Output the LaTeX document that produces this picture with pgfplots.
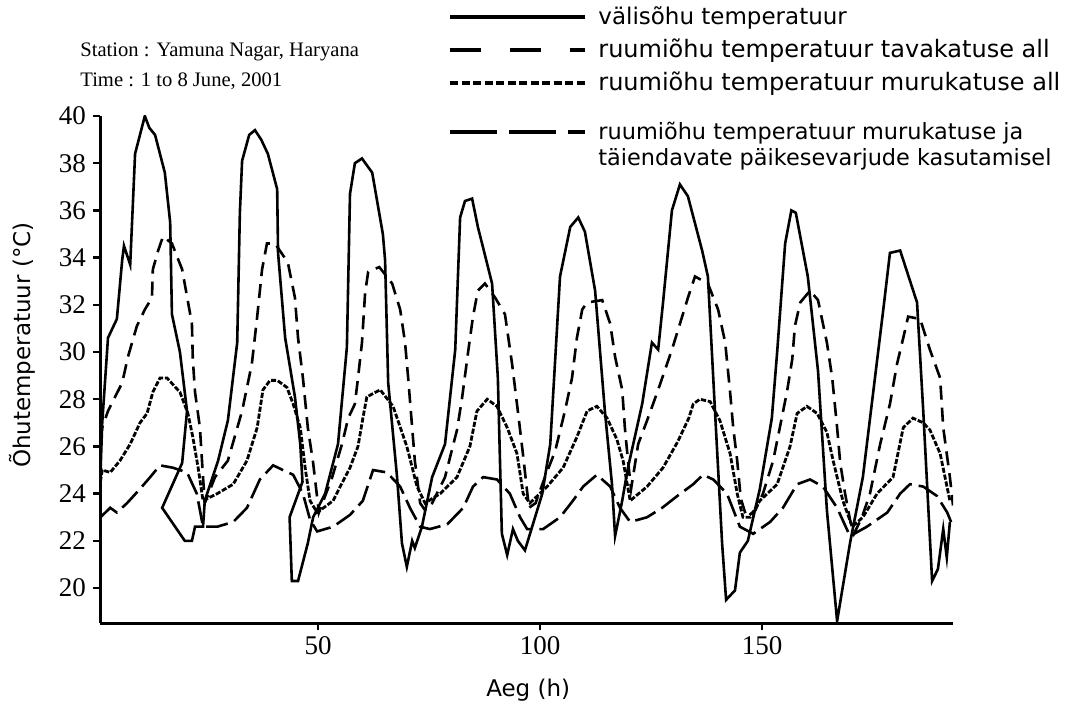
\documentclass[border=0pt]{standalone}
\usepackage{fontspec}
\setmainfont{Liberation Serif}
\newfontfamily\legfont{DejaVu Sans}
\usepackage{pgfplots}
\pgfplotsset{compat=1.18}
\tikzset{
  sOut/.style={line width=1.3bp, solid},
  sTava/.style={line width=1.3bp, dash pattern=on 7bp off 4bp},
  sMuru/.style={line width=1.4bp, dash pattern=on 2.6bp off 0.9bp},
  sVari/.style={line width=1.3bp, dash pattern=on 11bp off 3.5bp},
}
\begin{document}
\begin{tikzpicture}
\useasboundingbox (-50bp,-41.5bp) rectangle (485.5bp,311.5bp);
\begin{axis}[
  at={(0,0)}, anchor=south west,
  scale only axis, width=426.5bp, height=253.5bp,
  xmin=0.9, xmax=193, ymin=18.52, ymax=40,
  axis lines=left, axis line style={-, line width=1.5bp},
  xtick={50,100,150}, ytick={20,22,...,40},
  tick align=outside, major tick length=3.5bp,
  tick style={line width=1.2bp, black},
  /pgf/number format/assume math mode=true,
  tick label style={font=\fontsize{13.5bp}{15bp}\selectfont},
  xlabel={Aeg (h)}, ylabel={Õhutemperatuur (°C)},
  label style={font=\legfont\fontsize{11.5bp}{13bp}\selectfont},
  xlabel style={at={(axis description cs:0.502,-0.132)}, anchor=center},
  ylabel style={at={(axis description cs:-0.0914,0.548)}, anchor=center},
]
% välisõhu temperatuur
\addplot[sOut] coordinates {
(1,24.8) (1.4,27.0) (2.7,30.6) (4.7,31.4) (5.9,33.9) (6.3,34.5) (7.7,33.7) (8.8,38.4) (11.0,40.0) (12,39.5) (13.3,39.2) (15.5,37.6) (16.7,35.5) (17.1,31.6) (18.9,30.0) (20.5,27.5) (19.4,25.3) (14.9,23.4) (20.0,22.0) (21.6,22.0) (22.3,22.6) (24.1,22.6) (24.5,23.7)
(27.5,25.4) (29.7,27.1) (31.8,30.4) (32.4,35.9) (32.9,38.1) (34.5,39.2) (35.8,39.4) (37.2,39.0) (38.7,38.4) (40.8,36.9) (41.0,34.2) (42.6,30.6) (44.8,28.1) (46.0,26.1) (46.5,24.5) (43.6,23.0) (44.1,20.3) (45.5,20.3) (47.7,21.9) (48.9,23.0)
(51.6,24.0) (54.5,26.1) (56.5,30.2) (57.2,36.7) (58.3,38.0) (59.9,38.2) (62.2,37.6) (64.6,35.0) (65.1,33.9) (65.8,28.7) (67.8,24.7) (68.9,21.9) (70.0,20.9) (71.2,22.0) (71.8,21.7) (73.4,22.6)
(75.7,24.7) (78.6,26.1) (80.9,30.1) (82.0,35.7) (83.1,36.4) (84.7,36.5) (86.0,35.3) (89.2,32.9) (90.5,28.9) (91.4,22.3) (92.6,21.4) (93.9,22.5) (95.0,22.0) (96.6,21.6)
(100.5,24.0) (102.3,26.1) (104.5,33.2) (106.8,35.3) (108.6,35.7) (110.1,35.1) (112.4,32.6) (114.6,27.5) (116.2,24.4) (116.9,22.2) (118.5,23.7) (119.8,25.1)
(123.0,27.8) (125.2,30.4) (126.6,30.1) (127.7,32.1) (129.7,36.0) (131.5,37.1) (133.3,36.6) (136.5,34.3) (137.8,33.2) (139.4,27.5) (141.0,21.9) (141.9,19.5) (143.9,19.9) (145.0,21.5) (146.8,22.0)
(149.5,24.2) (152.2,27.2) (153.4,30.0) (155.2,34.6) (156.6,36.0) (157.6,35.9) (160.3,33.2) (162.6,29.2) (164.6,23.3) (166.9,18.6) (169.8,21.9) (172.7,24.7)
(177.3,31.8) (178.8,34.2) (181.1,34.3) (184.9,32.1) (186.3,27.5) (188.3,20.3) (189.6,20.8) (190.8,22.5) (191.6,21.3) (192.3,22.8)
};
% ruumiõhu temperatuur tavakatuse all
\addplot[sTava] coordinates {
(1,26.3) (1.4,26.8) (2.7,27.5) (5.9,28.7) (7.2,29.8) (9.2,31.1) (11.0,31.8) (12.6,32.3) (12.8,33.5) (14.0,34.3) (15.1,34.9) (17.1,34.6) (19.4,33.5) (21.6,31.2) (21.8,29.7) (22.3,28.3) (23.4,26.8) (24.1,24.7) (24.5,23.6)
(26.8,24.7) (29.7,25.4) (32.9,27.5) (35.1,29.5) (36.3,31.5) (37.4,33.5) (38.5,34.6) (40.3,34.6) (43.2,33.8) (44.8,32.3) (45.5,30.6) (46.6,28.9) (47.7,26.8) (48.9,25.3) (50.2,23.2)
(53.2,24.7) (55.4,26.1) (56.8,27.2) (58.3,27.8) (59.0,28.9) (59.9,30.4) (60.6,32.5) (61.3,33.4) (63.8,33.6) (66.7,32.9) (68.5,31.8) (69.6,30.4) (70.3,28.9) (71.2,26.8) (71.8,25.4) (73.0,23.6) (74.1,23.3)
(75.7,23.6) (78.6,24.7) (81.3,26.7) (82.4,28.0) (83.8,30.0) (84.9,31.5) (86.0,32.6) (87.6,32.9) (89.9,32.3) (92.1,31.6) (93.7,29.5) (95.0,27.5) (96.2,25.6) (97.5,23.4)
(99.0,23.6) (101.1,24.7) (103.4,25.8) (105.6,27.5) (107.2,28.9) (108.3,30.6) (109.5,31.8) (110.6,32.1) (114.0,32.2) (115.8,31.2) (116.9,29.8) (118.5,28.4) (119.1,26.8) (119.8,25.4) (120.5,24.2)
(122.1,26.1) (124.3,27.2) (126.6,28.4) (129.7,30.1) (132.0,31.5) (133.3,32.3) (134.9,33.2) (137.8,32.9) (140.1,31.8) (141.7,30.4) (142.8,28.3) (143.5,26.8) (144.4,25.4) (145.2,23.8) (146.5,23.0)
(148.5,23.3) (150.2,24.0) (152.5,25.4) (154.0,26.8) (155.6,28.3) (156.8,29.7) (157.4,31.1) (158.6,32.1) (160.8,32.6) (162.6,32.2) (164.6,30.4) (165.8,28.9) (166.9,26.8) (167.6,25.3) (168.7,24.0) (169.8,22.9) (170.7,22.3)
(172.5,23.0) (174.3,24.0) (176.6,26.1) (178.8,27.8) (180.4,29.5) (181.8,30.6) (182.9,31.5) (185.6,31.4) (187.8,30.1) (190.1,28.9) (190.8,26.8) (192.3,24.7) (193,23.5)
};
% ruumiõhu temperatuur murukatuse all
\addplot[sMuru] coordinates {
(1,24.5) (1.4,25.0) (3.2,24.9) (5.4,25.4) (7.7,26.1) (9.9,27.0) (11.5,27.4) (12.8,28.3) (14.4,28.9) (16.0,28.9) (18.9,28.3) (20.7,27.4) (21.8,26.4) (23.0,25.1) (24.1,23.7)
(27.3,24.0) (30.9,24.4) (34.0,25.4) (36.3,26.8) (37.6,28.4) (39.2,28.8) (40.8,28.8) (43.0,28.5) (44.4,27.8) (46.0,26.8) (47.1,25.1) (48.2,23.7) (49.8,23.2)
(53.4,23.7) (55.0,24.3) (57.2,25.1) (59.0,26.0) (60.1,27.2) (61.0,28.1) (64.0,28.4) (66.9,27.7) (70.0,26.0) (72.3,24.3) (74.1,23.6)
(77.5,24.0) (81.3,24.7) (84.2,26.0) (85.8,27.5) (88.1,28.0) (90.3,27.7) (92.6,26.8) (94.8,25.7) (96.2,24.0) (97.7,23.6)
(101.6,24.3) (105.2,25.1) (108.3,26.4) (110.6,27.5) (112.8,27.7) (115.1,27.2) (117.3,26.3) (118.7,25.4) (120.3,23.7)
(124.1,24.3) (127.7,25.1) (131.0,26.2) (133.5,27.2) (134.5,27.8) (136.0,28.0) (138.3,27.9) (140.5,27.1) (142.8,25.7) (144.4,24.0) (145.7,23.0) (147.3,23.0)
(149.5,23.7) (153.4,24.4) (156.3,26.0) (157.9,27.4) (160.1,27.7) (162.4,27.4) (164.6,26.6) (166.0,25.4) (168.2,23.7) (170.3,22.6)
(172.7,23.0) (175.9,24.0) (179.5,24.7) (181.8,26.8) (184.0,27.2) (186.3,27.0) (187.8,26.7) (190.1,25.7) (192.3,23.7)
};
% ruumiõhu temperatuur murukatuse ja päikesevarjude kasutamisel
\addplot[sVari] coordinates {
(1,23.0) (3.2,23.4) (4.7,23.2) (7.0,23.6) (9.9,24.2) (12.2,24.7) (14.4,25.2) (17.3,25.1) (20.5,24.9) (22.7,24.0) (24.1,22.6)
(27.3,22.6) (30.9,22.8) (34.0,23.4) (36.9,24.6) (39.9,25.2) (42.1,25.0) (44.4,24.8) (46.6,24.0) (48.2,22.9) (49.8,22.4)
(53.4,22.6) (57.2,23.1) (60.1,23.7) (62.4,25.0) (65.5,24.9) (68.5,24.3) (70.7,23.4) (73.0,22.6) (75.2,22.5)
(79.1,22.7) (82.7,23.4) (84.9,24.3) (87.2,24.7) (90.3,24.6) (93.2,24.0) (95.5,23.0) (97.1,22.5)
(100.7,22.5) (104.5,23.0) (107.4,23.7) (109.7,24.3) (112.8,24.8) (115.8,24.3) (118.0,23.4) (120.3,22.8)
(124.1,23.0) (127.5,23.4) (130.9,23.9) (134.5,24.4) (136.7,24.8) (139.0,24.6) (142.1,24.0) (145.0,22.6) (148.0,22.3)
(151.8,22.8) (154.7,23.4) (157.9,24.4) (160.8,24.6) (163.7,24.3) (166.9,23.4) (169.8,22.2)
(173.6,22.6) (178.2,23.2) (181.1,24.0) (183.3,24.4) (186.3,24.3) (189.4,23.9) (191.7,23.2) (193,22.6)
};
\end{axis}
% legend
\draw[line width=2.2bp] (175bp,303bp) -- (242.5bp,303bp);
\draw[line width=2.2bp, dash pattern=on 15.5bp off 14.5bp] (175bp,286.5bp) -- (242.5bp,286.5bp);
\draw[line width=2.2bp, dash pattern=on 4bp off 1.75bp] (175bp,270bp) -- (242.5bp,270bp);
\draw[line width=2.2bp, dash pattern=on 23.5bp off 6bp] (175bp,245.5bp) -- (242.5bp,245.5bp);
\node[anchor=base west, inner sep=0pt, font=\legfont\fontsize{11.5bp}{13bp}\selectfont] at (249bp,299bp) {välisõhu temperatuur};
\node[anchor=base west, inner sep=0pt, font=\legfont\fontsize{12bp}{13bp}\selectfont] at (249bp,282.5bp) {ruumiõhu temperatuur tavakatuse all};
\node[anchor=base west, inner sep=0pt, font=\legfont\fontsize{12bp}{13bp}\selectfont] at (249bp,266bp) {ruumiõhu temperatuur murukatuse all};
\node[anchor=base west, inner sep=0pt, font=\legfont\fontsize{11.2bp}{13bp}\selectfont] at (249bp,241.5bp) {ruumiõhu temperatuur murukatuse ja};
\node[anchor=base west, inner sep=0pt, font=\legfont\fontsize{11.2bp}{13bp}\selectfont] at (249bp,228.5bp) {täiendavate päikesevarjude kasutamisel};
% station note
\node[anchor=base west, inner sep=0pt, font=\fontsize{10.3bp}{12bp}\selectfont] at (-10bp,283bp) {Station : Yamuna Nagar, Haryana};
\node[anchor=base west, inner sep=0pt, font=\fontsize{10.3bp}{12bp}\selectfont] at (-10bp,268bp) {Time : 1 to 8 June, 2001};
\end{tikzpicture}
\end{document}
